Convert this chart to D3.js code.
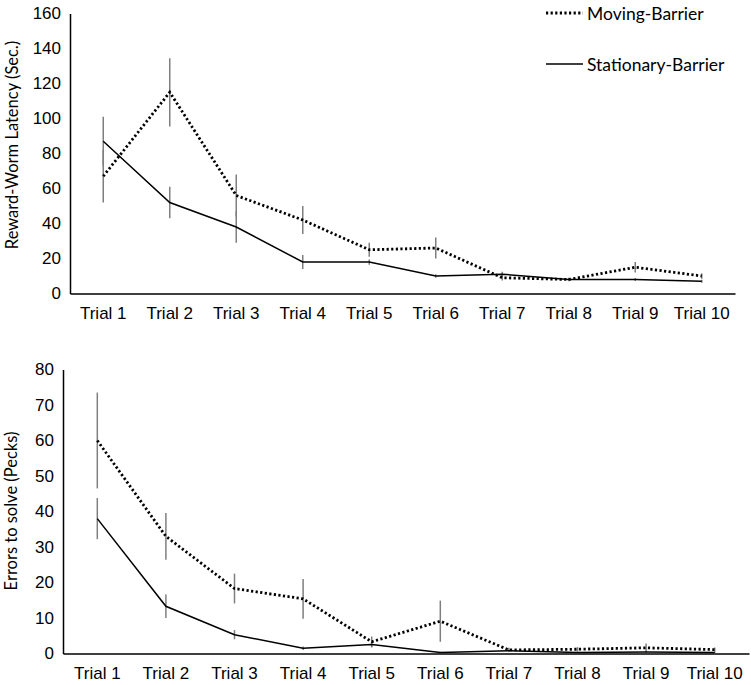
<!DOCTYPE html>
<html>
<head>
<meta charset="utf-8">
<script src="https://cdn.jsdelivr.net/npm/d3@7"></script>
<style>
  body { margin: 0; background: #fff; }
  svg { display: block; font-family: Lato, "Open Sans", sans-serif; }
  .axis text { font-size: 17px; fill: #000; }
</style>
</head>
<body>
<svg id="chart" width="751" height="685"></svg>
<script>
const trials = ["Trial 1","Trial 2","Trial 3","Trial 4","Trial 5","Trial 6","Trial 7","Trial 8","Trial 9","Trial 10"];

// Top panel: Reward-Worm Latency (Sec.)
const latencyTicks = [0, 20, 40, 60, 80, 100, 120, 140, 160];
const latencyMoving = [67, 115, 56, 42, 25, 26, 9, 8, 15, 10];
const latencyMovingErr = [15, 19.5, 12, 8, 4, 6, 1.5, 1, 3, 1.5];
const latencyStationary = [87, 52, 38, 18, 18, 10, 11, 8, 8, 7];
const latencyStationaryErr = [14, 9, 9, 4, 1.5, 1, 1.5, 0.8, 0.8, 0.8];

// Bottom panel: Errors to solve (Pecks)
const errorsTicks = [0, 10, 20, 30, 40, 50, 60, 70, 80];
const errorsMoving = [60, 33, 18.3, 15.4, 3.3, 9.1, 1, 1.2, 1.6, 1.1];
const errorsMovingErr = [13.5, 6.6, 4.2, 5.6, 1.5, 5.8, 0.6, 0.6, 1.2, 0.6];
const errorsStationary = [38, 13.3, 5.3, 1.5, 2.5, 0.3, 0.8, 0.3, 0.4, 0.3];
const errorsStationaryErr = [5.8, 3.3, 1.3, 0.5, 0.8, 0.2, 0.3, 0.2, 0.2, 0.2];

const seriesNames = ["Moving-Barrier", "Stationary-Barrier"];

const svg = d3.select("#chart");
const DOT = "2.2,2.4";

function panel(cfg) {
  const x = d3.scaleBand().domain(trials).range(cfg.xRange).padding(0);
  const y = d3.scaleLinear().domain([cfg.ticks[0], cfg.ticks[cfg.ticks.length-1]]).range(cfg.yRange);
  const g = svg.append("g");
  const cx = d => x(d) + x.bandwidth() / 2;

  // y axis
  const ya = g.append("g").attr("class", "axis")
    .attr("transform", `translate(${cfg.xRange[0]},0)`)
    .call(d3.axisLeft(y).tickValues(cfg.ticks).tickSize(0).tickPadding(9).tickFormat(d3.format("d")));
  ya.select(".domain").attr("stroke", "#000").attr("stroke-width", 1.5);

  // x axis
  const xa = g.append("g").attr("class", "axis")
    .attr("transform", `translate(0,${cfg.yRange[0]})`)
    .call(d3.axisBottom(x).tickSize(0).tickPadding(13));
  xa.select(".domain").attr("stroke", "#000").attr("stroke-width", 1.5);

  // y title
  g.append("text")
    .attr("transform", `translate(${cfg.titleX},${cfg.titleY}) rotate(-90)`)
    .attr("text-anchor", "middle").attr("dominant-baseline", "central")
    .attr("font-size", 16.5).text(cfg.title);

  const line = d3.line().x((d, i) => cx(trials[i])).y(d => y(d));

  // error bars
  const drawErr = (vals, errs) => {
    g.append("g").selectAll("line").data(vals).join("line")
      .attr("x1", (d, i) => cx(trials[i])).attr("x2", (d, i) => cx(trials[i]))
      .attr("y1", (d, i) => y(d + errs[i])).attr("y2", (d, i) => y(d - errs[i]))
      .attr("stroke", "#7f7f7f").attr("stroke-width", 1.5);
  };
  drawErr(cfg.moving, cfg.movingErr);
  drawErr(cfg.stationary, cfg.stationaryErr);

  g.append("path").datum(cfg.stationary).attr("d", line)
    .attr("fill", "none").attr("stroke", "#000").attr("stroke-width", 1.5);
  g.append("path").datum(cfg.moving).attr("d", line)
    .attr("fill", "none").attr("stroke", "#000").attr("stroke-width", 2.8)
    .attr("stroke-dasharray", DOT);
}

panel({
  xRange: [70, 735], yRange: [293.5, 13.5], ticks: latencyTicks,
  moving: latencyMoving, movingErr: latencyMovingErr,
  stationary: latencyStationary, stationaryErr: latencyStationaryErr,
  title: "Reward-Worm Latency (Sec.)", titleX: 12, titleY: 145
});
panel({
  xRange: [63, 749], yRange: [653.5, 369.5], ticks: errorsTicks,
  moving: errorsMoving, movingErr: errorsMovingErr,
  stationary: errorsStationary, stationaryErr: errorsStationaryErr,
  title: "Errors to solve (Pecks)", titleX: 11, titleY: 511
});

// legend
const legend = svg.append("g");
const legY = [13, 64];
legend.selectAll("line").data(seriesNames).join("line")
  .attr("x1", 546).attr("x2", 583)
  .attr("y1", (d, i) => legY[i]).attr("y2", (d, i) => legY[i])
  .attr("stroke", "#000")
  .attr("stroke-width", (d, i) => i === 0 ? 2.8 : 1.5)
  .attr("stroke-dasharray", (d, i) => i === 0 ? DOT : null);
legend.selectAll("text").data(seriesNames).join("text")
  .attr("x", 587).attr("y", (d, i) => legY[i])
  .attr("dominant-baseline", "central").attr("font-size", 17.5)
  .text(d => d);
</script>
</body>
</html>
